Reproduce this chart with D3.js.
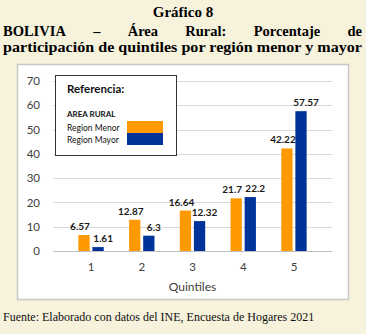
<!DOCTYPE html>
<html>
<head>
<meta charset="utf-8">
<script src="https://cdn.jsdelivr.net/npm/d3@7"></script>
<style>
  body { margin: 0; background: #f6f2dc; }
  svg { display: block; }
</style>
</head>
<body>
<div id="chart"></div>
<script>
var quintiles = ["1", "2", "3", "4", "5"];
var regionMenor = [6.57, 12.87, 16.64, 21.7, 42.22];
var regionMayor = [1.61, 6.3, 12.32, 22.2, 57.57];
var yTicks = [0, 10, 20, 30, 40, 50, 60, 70];
var seriesNames = ["Region Menor", "Region Mayor"];

var W = 366, H = 334;
var orange = "#ff9900", blue = "#003399";
var serif = "'Liberation Serif', 'Times New Roman', serif";
var sans = "Lato, 'Open Sans', sans-serif";

var svg = d3.select("#chart").append("svg")
    .attr("width", W)
    .attr("height", H);

svg.append("rect").attr("width", W).attr("height", H).attr("fill", "#f6f2dc");

// titulo
svg.append("text")
    .attr("x", W / 2).attr("y", 17)
    .attr("text-anchor", "middle")
    .style("font-family", serif).style("font-weight", "bold").style("font-size", "15px")
    .text("Gráfico 8");

// linea justificada
function justify(words, y, x0, x1) {
    var g = svg.append("g");
    var nodes = words.map(w => g.append("text")
        .attr("y", y)
        .style("font-family", serif).style("font-weight", "bold").style("font-size", "14.5px")
        .text(w));
    var widths = nodes.map(n => n.node().getComputedTextLength());
    var gap = (x1 - x0 - d3.sum(widths)) / (words.length - 1);
    var x = x0;
    nodes.forEach((n, i) => { n.attr("x", x); x += widths[i] + gap; });
}
justify(["BOLIVIA", "–", "Área", "Rural:", "Porcentaje", "de"], 35.5, 3, 362);
svg.append("text")
    .attr("x", 3).attr("y", 51.5)
    .attr("textLength", 359).attr("lengthAdjust", "spacingAndGlyphs")
    .style("font-family", serif).style("font-weight", "bold").style("font-size", "14px")
    .text("participación de quintiles por región menor y mayor");

// caja del grafico
svg.append("rect")
    .attr("x", 17.5).attr("y", 64.5).attr("width", 331).attr("height", 235)
    .attr("fill", "#fff").attr("stroke", "#c8c8c8").attr("stroke-width", 1.5);

var x0 = d3.scaleBand().domain(quintiles).range([53, 332]).padding(0.5);
var x1 = d3.scaleBand().domain(seriesNames).range([0, x0.bandwidth()]).paddingInner(0.2);
var y = d3.scaleLinear().domain([0, 70]).range([251, 81]);

// grilla
svg.append("g").selectAll("line")
    .data(yTicks)
    .enter().append("line")
    .attr("x1", 53).attr("x2", 332)
    .attr("y1", d => Math.round(y(d)) + 0.5).attr("y2", d => Math.round(y(d)) + 0.5)
    .attr("stroke", d => d === 0 ? "#bfbfbf" : "#d9d9d9")
    .attr("stroke-width", 1);

var yAxis = d3.axisLeft(y).tickValues(yTicks).tickSize(0).tickPadding(0);
svg.append("g")
    .attr("transform", "translate(40,0)")
    .call(yAxis)
    .call(g => g.select(".domain").remove())
    .selectAll("text")
    .style("font-family", sans).style("font-size", "11.5px").attr("fill", "#404040");

var xAxis = d3.axisBottom(x0).tickSize(0).tickPadding(0);
svg.append("g")
    .attr("transform", "translate(0,263)")
    .call(xAxis)
    .call(g => g.select(".domain").remove())
    .selectAll("text")
    .style("font-family", sans).style("font-size", "11.5px").attr("fill", "#404040");

svg.append("text")
    .attr("x", (53 + 332) / 2).attr("y", 291)
    .attr("text-anchor", "middle")
    .style("font-family", sans).style("font-size", "12px").attr("fill", "#404040")
    .text("Quintiles");

// barras
var rows = quintiles.map((q, i) => ({ q: q, vals: [regionMenor[i], regionMayor[i]] }));
var colors = [orange, blue];
var labelDx = [-4, 5];

var groups = svg.append("g").selectAll("g")
    .data(rows)
    .enter().append("g")
    .attr("transform", d => "translate(" + x0(d.q) + ",0)");

groups.selectAll("rect")
    .data(d => d.vals.map((v, i) => ({ s: seriesNames[i], v: v, i: i })))
    .enter().append("rect")
    .attr("x", d => x1(d.s))
    .attr("width", x1.bandwidth())
    .attr("y", d => y(d.v))
    .attr("height", d => y(0) - y(d.v))
    .attr("fill", d => colors[d.i]);

groups.selectAll("text")
    .data(d => d.vals.map((v, i) => ({ s: seriesNames[i], v: v, i: i })))
    .enter().append("text")
    .attr("x", d => x1(d.s) + x1.bandwidth() / 2 + labelDx[d.i])
    .attr("y", d => y(d.v) - 5)
    .attr("text-anchor", "middle")
    .style("font-family", sans).style("font-weight", "bold").style("font-size", "10px")
    .attr("fill", "#1a1a1a")
    .text(d => d.v);

// leyenda
var lg = svg.append("g");
lg.append("rect")
    .attr("x", 55.5).attr("y", 75.5).attr("width", 121).attr("height", 80)
    .attr("fill", "#fff").attr("stroke", "#333").attr("stroke-width", 1);
lg.append("text")
    .attr("x", 67).attr("y", 93)
    .style("font-family", sans).style("font-weight", "bold").style("font-size", "11.5px")
    .attr("fill", "#111")
    .text("Referencia:");
lg.append("text")
    .attr("x", 67).attr("y", 117)
    .style("font-family", sans).style("font-weight", "bold").style("font-size", "8px")
    .attr("fill", "#111")
    .text("AREA RURAL");
seriesNames.forEach((s, i) => {
    lg.append("text")
        .attr("x", 67).attr("y", 130.5 + i * 12)
        .style("font-family", sans).style("font-size", "8.5px")
        .attr("fill", "#111")
        .text(s);
    lg.append("rect")
        .attr("x", 127).attr("y", 121 + i * 12)
        .attr("width", 36).attr("height", 12)
        .attr("fill", colors[i]);
});

// fuente
svg.append("text")
    .attr("x", 3).attr("y", 321)
    .style("font-family", serif).style("font-size", "12px")
    .attr("fill", "#111")
    .text("Fuente: Elaborado con datos del INE, Encuesta de Hogares 2021");
</script>
</body>
</html>
